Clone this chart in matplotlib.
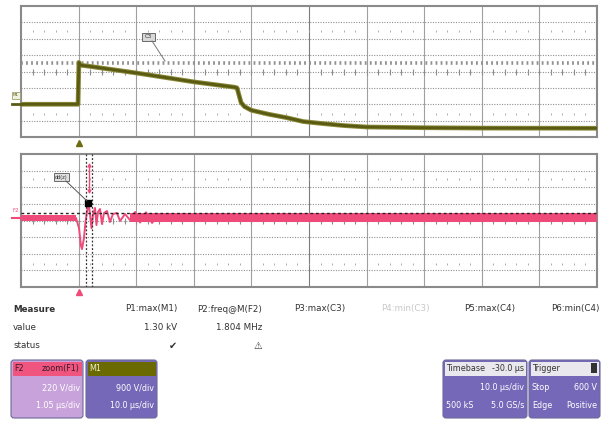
import numpy as np
import matplotlib
matplotlib.use('Agg')
import matplotlib.pyplot as plt
from matplotlib.patches import FancyBboxPatch, Rectangle

W, H = 604, 421

# M1 trace, time in us, volts (ground = 0)
m1_t = [-10, -0.1, 0.05, 0.3, 2, 10, 20, 27, 27.5, 28.2, 28.8, 30, 33, 36, 39, 42, 46, 50, 60, 70, 90]
m1_v = [0, 0, 2300, 2150, 2080, 1720, 1230, 940, 900, 100, -130, -330, -550, -730, -950,
        -1050, -1170, -1250, -1290, -1310, -1320]
m1_level = 2284

# F2 = zoom(F1) trace, time in us, volts
f2_t = [-1.05, -0.047, 0.007, 0.044, 0.062, 0.098, 0.126, 0.153, 0.180, 0.208, 0.235, 0.263,
        0.299, 0.326, 0.354, 0.390, 0.427, 0.463, 0.518, 0.572, 0.627, 0.700, 0.755, 0.846,
        0.937, 1.03, 1.12, 1.23, 1.34, 1.45]
f2_v = [0, 0, -133, -371, -411, -265, -53, 80, 199, 53, -133, 40, 133, -93, 80, 119, -80, 66,
        93, -53, 53, 66, -40, 53, -27, 80, -60, 75, -65, 40]
f2_pre_hi, f2_pre_lo = 35, -35
f2_noise_t = [0.94, 9.45]
f2_noise_hi = [62, 62]
f2_noise_lo = [-58, -58]
f2_marker = (0.180, 199)
f2_cursors = [0.135, 0.244]
f2_level = 70

measure_names = ['P1:max(M1)', 'P2:freq@M(F2)', 'P3:max(C3)', 'P4:min(C3)', 'P5:max(C4)', 'P6:min(C4)']
measure_values = ['1.30 kV', '1.804 MHz', '', '', '', '']
measure_status = ['\u2714', '\u26a0', '', '', '', '']
measure_right = [177, 262, 345, 430, 515, 600]

OLIVE = '#5a5a12'
RED = '#ee4a7a'
PURPLE = '#7668b8'

fig = plt.figure(figsize=(W / 100, H / 100), dpi=100)
fig.patch.set_facecolor('white')


def px_axes(x0, y0, x1, y1):
    return fig.add_axes([x0 / W, 1 - y1 / H, (x1 - x0) / W, (y1 - y0) / H])


def scope_grid(ax, x0, xdiv, yc, ydiv):
    ax.set_xlim(x0, x0 + 10 * xdiv)
    ax.set_ylim(yc - 4 * ydiv, yc + 4 * ydiv)
    for i in range(1, 10):
        ax.axvline(x0 + i * xdiv, color='#7c7c7c' if i == 5 else '#a0a0a0', lw=0.8, zorder=1)
    for j in range(-3, 4):
        ax.axhline(yc + j * ydiv, color='#909090', lw=0.8, ls=(0, (1, 1.3)), zorder=1)
    xs = x0 + np.arange(1, 50) * xdiv / 5
    for r in (2.5, -2.6):
        ax.plot(xs, np.full(xs.size, yc + r * ydiv), ls='none', marker='|', ms=2,
                mew=0.6, color='#a0a0a0', zorder=1)
    ax.plot(xs, np.full(xs.size, yc), ls='none', marker='|', ms=4, mew=0.8,
            color='#8c8c8c', zorder=1)
    ax.set_xticks([])
    ax.set_yticks([])
    for s in ax.spines.values():
        s.set_color('#8a8a8a')
        s.set_linewidth(1.5)


# top panel: M1, 10 us/div, 900 V/div
ax1 = px_axes(21, 6, 597, 137)
scope_grid(ax1, -10, 10, 1800, 900)
ax1.axhline(m1_level, color='#909090', lw=2.6, ls=(0, (0.5, 0.9)), zorder=1)
ax1.plot(m1_t, m1_v, color='#8a8a3a', lw=3.4, solid_joinstyle='round', zorder=3)
ax1.plot(m1_t, m1_v, color=OLIVE, lw=2.0, solid_joinstyle='round', zorder=4)

# bottom panel: F2, 1.05 us/div, 220 V/div
ax2 = px_axes(21, 154, 597, 287)
scope_grid(ax2, -1.05, 1.05, -33, 220)
ax2.fill_between([-1.05, -0.047], [f2_pre_lo] * 2, [f2_pre_hi] * 2, color=RED, lw=0, zorder=3)
ax2.fill_between(f2_noise_t, f2_noise_lo, f2_noise_hi, color=RED, lw=0, zorder=3)
ax2.plot(f2_t, f2_v, color=RED, lw=1.4, zorder=4)
ax2.axhline(f2_level, color='#222222', lw=1.0, ls=(0, (2, 2)), zorder=5)
for c in f2_cursors:
    ax2.axvline(c, color='#333333', lw=0.9, ls=(0, (1.5, 1.5)), zorder=5)
ax2.plot(*f2_marker, marker='s', ms=4.5, color='black', zorder=6)

# overlay in pixel coordinates
ov = fig.add_axes([0, 0, 1, 1])
ov.set_xlim(0, W)
ov.set_ylim(H, 0)
ov.axis('off')
ov.patch.set_alpha(0)

# channel tags and trigger markers
ov.add_patch(Rectangle((12, 92), 8, 7, fc='#f0f0e0', ec='#a0a070', lw=0.6))
ov.text(16, 95.5, 'M1', fontsize=3, ha='center', va='center', color=OLIVE)
ov.plot([12, 21], [104.3, 104.3], color=OLIVE, lw=2)
ov.text(16, 210.5, 'F2', fontsize=4, ha='center', va='center', color=RED)
ov.plot([12, 21], [218, 218], color=RED, lw=1.5)
ov.plot(78.6, 142.5, marker='^', ms=5, color='#6b6b10')
ov.plot(78.6, 292, marker='^', ms=5, color=RED)

# annotation labels
ov.add_patch(Rectangle((142, 33), 13, 8, fc='#d8d8d8', ec='#555555', lw=0.6))
ov.text(148.5, 37, 'C3', fontsize=4, ha='center', va='center', color='#333333')
ov.plot([152, 165], [41, 61], color='#777777', lw=0.7)
ov.add_patch(Rectangle((54, 173), 15, 8, fc='#e0e0e0', ec='#555555', lw=0.6))
ov.text(61.5, 177, 'dd(z)', fontsize=3.6, ha='center', va='center', color='#333333')
ov.plot([66, 87], [181, 201], color='#555555', lw=0.7)
ov.annotate('', xy=(89.5, 160), xytext=(89.5, 197),
            arrowprops=dict(arrowstyle='<->', color=RED, lw=1.0, mutation_scale=5))

# measurement table
ov.text(13, 309, 'Measure', fontsize=6.3, fontweight='bold', va='center', color='#333333')
ov.text(13, 327, 'value', fontsize=6.3, va='center', color='#333333')
ov.text(13, 346, 'status', fontsize=6.3, va='center', color='#333333')
for i, name in enumerate(measure_names):
    col = '#c8c8c8' if name == 'P4:min(C3)' else '#333333'
    ov.text(measure_right[i], 309, name, fontsize=6.3, ha='right', va='center', color=col)
    ov.text(measure_right[i], 327, measure_values[i], fontsize=6.3, ha='right', va='center',
            color='#333333')
    ov.text(measure_right[i], 346, measure_status[i], fontsize=7, ha='right', va='center',
            color='#333333')


def info_box(x0, x1, head_col, body_col, head_txt_col, left, right, rows):
    ov.add_patch(FancyBboxPatch((x0, 360), x1 - x0, 58, boxstyle='round,pad=0,rounding_size=3',
                                fc=body_col, ec='#6a6a9a', lw=0.8))
    ov.add_patch(Rectangle((x0 + 1.5, 361.5), x1 - x0 - 3, 14, fc=head_col, lw=0))
    ov.text(x0 + 3, 368.5, left, fontsize=5.8, va='center', color=head_txt_col)
    ov.text(x1 - 3, 368.5, right, fontsize=5.8, va='center', ha='right', color=head_txt_col)
    for k, (lt, rt) in enumerate(rows):
        y = 388 + 17 * k
        ov.text(x0 + 3, y, lt, fontsize=5.8, va='center', color='white')
        ov.text(x1 - 3, y, rt, fontsize=5.8, va='center', ha='right', color='white')


info_box(11, 83, '#f0557f', '#c8a2da', '#3a1a2a', 'F2', 'zoom(F1)',
         [('', '220 V/div'), ('', '1.05 \u00b5s/div')])
info_box(86, 157, '#6b6a00', PURPLE, '#f0f0d0', 'M1', '',
         [('', '900 V/div'), ('', '10.0 \u00b5s/div')])
info_box(443, 527, '#e8e8ee', PURPLE, '#333333', 'Timebase', '-30.0 \u00b5s',
         [('', '10.0 \u00b5s/div'), ('500 kS', '5.0 GS/s')])
info_box(529, 600, '#e8e8ee', PURPLE, '#333333', 'Trigger', '',
         [('Stop', '600 V'), ('Edge', 'Positive')])
ov.add_patch(Rectangle((591, 363), 6, 10, fc='#333333', lw=0))

fig.savefig('out.png', dpi=100)
